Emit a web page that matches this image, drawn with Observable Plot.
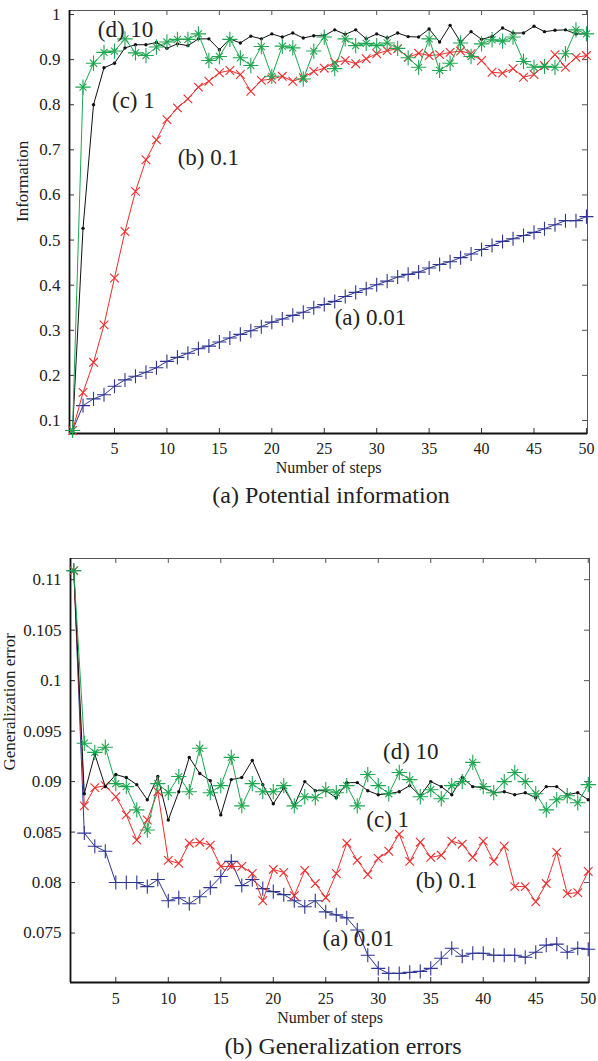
<!DOCTYPE html>
<html>
<head>
<meta charset="utf-8">
<script src="https://cdn.jsdelivr.net/npm/d3@7"></script>
<script src="https://cdn.jsdelivr.net/npm/@observablehq/plot@0.6"></script>
<style>
  body { margin: 0; background: #fff; }
  #wrap { position: relative; width: 598px; height: 1061px; overflow: hidden;
          font-family: "Liberation Serif", "Times New Roman", serif; color: #222; }
  .panel { position: absolute; left: 0; }
  .cap { position: absolute; transform: translate(-50%, -50%); white-space: nowrap;
         font-size: 24px; line-height: 1; color: #222; }
</style>
</head>
<body>
<div id="wrap">
  <div class="panel" id="p1" style="top:0px"></div>
  <div class="cap" style="left:331px; top:495px">(a) Potential information</div>
  <div class="panel" id="p2" style="top:530px"></div>
  <div class="cap" style="left:343px; top:1046px">(b) Generalization errors</div>
</div>
<script>
// Steps along the horizontal axis
const steps = [1, 2, 3, 4, 5, 6, 7, 8, 9, 10, 11, 12, 13, 14, 15, 16, 17, 18, 19, 20,
  21, 22, 23, 24, 25, 26, 27, 28, 29, 30, 31, 32, 33, 34, 35, 36, 37, 38, 39, 40,
  41, 42, 43, 44, 45, 46, 47, 48, 49, 50];

// Series names (learning parameter)
const seriesNames = ["(a) 0.01", "(b) 0.1", "(c) 1", "(d) 10"];

// Potential information per step
const infoA = [0.078, 0.133, 0.148, 0.157, 0.176, 0.190, 0.198, 0.207, 0.217, 0.231,
  0.240, 0.249, 0.259, 0.265, 0.274, 0.283, 0.291, 0.299, 0.308, 0.318,
  0.325, 0.333, 0.340, 0.350, 0.357, 0.364, 0.375, 0.384, 0.392, 0.401,
  0.409, 0.418, 0.424, 0.429, 0.438, 0.446, 0.452, 0.461, 0.469, 0.479,
  0.488, 0.497, 0.503, 0.510, 0.517, 0.525, 0.534, 0.543, 0.543, 0.552];
const infoB = [0.078, 0.162, 0.229, 0.312, 0.416, 0.519, 0.608, 0.678, 0.722, 0.767,
  0.793, 0.813, 0.839, 0.852, 0.871, 0.876, 0.867, 0.830, 0.854, 0.857,
  0.863, 0.852, 0.860, 0.874, 0.881, 0.894, 0.898, 0.891, 0.902, 0.913,
  0.920, 0.924, 0.905, 0.914, 0.909, 0.911, 0.916, 0.919, 0.913, 0.898,
  0.872, 0.870, 0.880, 0.861, 0.867, 0.887, 0.911, 0.883, 0.905, 0.909];
const infoC = [0.078, 0.526, 0.800, 0.882, 0.892, 0.926, 0.933, 0.933, 0.938, 0.925,
  0.935, 0.931, 0.946, 0.946, 0.922, 0.946, 0.937, 0.952, 0.946, 0.957,
  0.950, 0.959, 0.948, 0.953, 0.953, 0.966, 0.956, 0.966, 0.946, 0.957,
  0.948, 0.959, 0.951, 0.950, 0.968, 0.939, 0.976, 0.939, 0.962, 0.945,
  0.951, 0.970, 0.959, 0.959, 0.974, 0.962, 0.965, 0.966, 0.957, 0.957];
const infoD = [0.078, 0.839, 0.892, 0.916, 0.919, 0.946, 0.915, 0.909, 0.928, 0.939,
  0.945, 0.945, 0.957, 0.898, 0.907, 0.945, 0.904, 0.887, 0.929, 0.863,
  0.930, 0.926, 0.857, 0.919, 0.950, 0.880, 0.946, 0.931, 0.936, 0.931,
  0.937, 0.925, 0.904, 0.883, 0.946, 0.876, 0.892, 0.937, 0.907, 0.935,
  0.944, 0.941, 0.950, 0.896, 0.883, 0.885, 0.883, 0.913, 0.966, 0.957];

// Generalization error per step
const errA = [0.1109, 0.0849, 0.0836, 0.0831, 0.0800, 0.0800, 0.0800, 0.0796, 0.0803, 0.0782,
  0.0785, 0.0779, 0.0786, 0.0795, 0.0806, 0.0821, 0.0797, 0.0803, 0.0794, 0.0791,
  0.0788, 0.0782, 0.0776, 0.0782, 0.0771, 0.0768, 0.0765, 0.0753, 0.0728, 0.0715,
  0.0710, 0.0710, 0.0711, 0.0712, 0.0715, 0.0725, 0.0735, 0.0727, 0.0730, 0.0730,
  0.0728, 0.0728, 0.0728, 0.0726, 0.0731, 0.0738, 0.0739, 0.0731, 0.0735, 0.0734];
const errB = [0.1109, 0.0876, 0.0894, 0.0896, 0.0885, 0.0867, 0.0842, 0.0862, 0.0890, 0.0822,
  0.0819, 0.0839, 0.0840, 0.0837, 0.0816, 0.0816, 0.0816, 0.0809, 0.0782, 0.0813,
  0.0810, 0.0787, 0.0812, 0.0799, 0.0785, 0.0809, 0.0839, 0.0822, 0.0808, 0.0824,
  0.0831, 0.0848, 0.0821, 0.0840, 0.0825, 0.0827, 0.0841, 0.0838, 0.0825, 0.0841,
  0.0821, 0.0836, 0.0796, 0.0796, 0.0781, 0.0799, 0.0830, 0.0789, 0.0790, 0.0811];
const errC = [0.1109, 0.0888, 0.0927, 0.0895, 0.0907, 0.0904, 0.0897, 0.0882, 0.0905, 0.0862,
  0.0890, 0.0924, 0.0908, 0.0901, 0.0867, 0.0902, 0.0904, 0.0921, 0.0897, 0.0878,
  0.0894, 0.0876, 0.0900, 0.0891, 0.0891, 0.0884, 0.0899, 0.0899, 0.0891, 0.0887,
  0.0888, 0.0890, 0.0896, 0.0886, 0.0900, 0.0895, 0.0887, 0.0904, 0.0895, 0.0894,
  0.0889, 0.0890, 0.0887, 0.0889, 0.0884, 0.0895, 0.0895, 0.0887, 0.0889, 0.0882];
const errD = [0.1109, 0.0938, 0.0929, 0.0934, 0.0898, 0.0895, 0.0872, 0.0852, 0.0898, 0.0889,
  0.0905, 0.0890, 0.0933, 0.0889, 0.0896, 0.0924, 0.0876, 0.0898, 0.0890, 0.0890,
  0.0896, 0.0876, 0.0885, 0.0884, 0.0892, 0.0889, 0.0896, 0.0876, 0.0907, 0.0896,
  0.0888, 0.0909, 0.0902, 0.0885, 0.0892, 0.0883, 0.0896, 0.0900, 0.0919, 0.0895,
  0.0889, 0.0900, 0.0909, 0.0900, 0.0888, 0.0872, 0.0882, 0.0886, 0.0879, 0.0897];

// Tick values
const xTicks = [5, 10, 15, 20, 25, 30, 35, 40, 45, 50];
const infoTicks = [0.1, 0.2, 0.3, 0.4, 0.5, 0.6, 0.7, 0.8, 0.9, 1];
const errTicks = [0.075, 0.08, 0.085, 0.09, 0.095, 0.1, 0.105, 0.11];

// Line and marker styles per series
const styles = [
  {color: "#2e3592", markers: [{symbol: "plus", r: 4.6}]},
  {color: "#ee2c2c", markers: [{symbol: "times", r: 4}]},
  {color: "#111111", markers: [{symbol: "circle", r: 1.7, fill: true}]},
  {color: "#1ea650", markers: [{symbol: "plus", r: 5}, {symbol: "times", r: 3.3}]}
];

const FONT = "Liberation Serif, Times New Roman, serif";

function panel(opts) {
  const {values, xDomain, yDomain, yTicks, yTitle, yTitleDx, titleDy,
         height, marginTop, marginBottom, marginLeft, marginRight, tickPad, notes} = opts;
  const width = 598;
  const innerW = width - marginLeft - marginRight;
  const innerH = height - marginTop - marginBottom;
  const t = 5; // inward tick length

  const marks = [
    Plot.frame({stroke: "#555", strokeWidth: 1}),
    // inward ticks on all four sides
    Plot.ruleX(xTicks, {stroke: "#333", insetTop: innerH - t}),
    Plot.ruleX(xTicks, {stroke: "#555", insetBottom: innerH - t}),
    Plot.ruleY(yTicks, {stroke: "#333", insetRight: innerW - t}),
    Plot.ruleY(yTicks, {stroke: "#555", insetLeft: innerW - t}),
    // heavier left and bottom spines
    Plot.ruleX([xDomain[0]], {stroke: "#111", strokeWidth: 1.8}),
    Plot.ruleY([yDomain[0]], {stroke: "#111", strokeWidth: 1.8}),
    Plot.axisX({ticks: xTicks, tickSize: 0, tickPadding: tickPad, label: null,
                fontSize: 16, tickFormat: d => String(d)}),
    Plot.axisY({ticks: yTicks, tickSize: 0, tickPadding: 9, label: null,
                fontSize: 17, tickFormat: d => String(d)}),
    Plot.text(["Number of steps"], {frameAnchor: "bottom", dy: titleDy,
                fontSize: 16, fill: "#222"}),
    Plot.text([yTitle], {frameAnchor: "left", dx: yTitleDx, rotate: -90,
                fontSize: 17, fill: "#222"})
  ];

  values.forEach((ys, i) => {
    const rows = steps.map((s, j) => ({step: s, value: ys[j]}));
    const st = styles[i];
    marks.push(Plot.line(rows, {x: "step", y: "value", stroke: st.color, strokeWidth: 1}));
    st.markers.forEach(m => {
      marks.push(Plot.dot(rows, {
        x: "step", y: "value", symbol: m.symbol, r: m.r,
        stroke: m.fill ? "none" : st.color,
        fill: m.fill ? st.color : "none",
        strokeWidth: 1.1
      }));
    });
  });

  marks.push(Plot.text(notes, {x: "x", y: "y", text: "label", fontSize: 23, fill: "#222"}));

  return Plot.plot({
    width, height, marginTop, marginBottom, marginLeft, marginRight,
    x: {domain: xDomain},
    y: {domain: yDomain},
    style: {fontFamily: FONT, fontSize: "17px", color: "#222", background: "white", overflow: "visible"},
    marks
  });
}

document.getElementById("p1").append(panel({
  values: [infoA, infoB, infoC, infoD],
  xDomain: [0.71, 50.1],
  yDomain: [0.0712, 1.0089],
  yTicks: infoTicks,
  yTitle: "Information",
  yTitleDx: -47,
  titleDy: 39,
  height: 480, marginTop: 10, marginBottom: 47, marginLeft: 69, marginRight: 11,
  tickPad: 9,
  notes: [
    {label: seriesNames[3], x: 6.05, y: 0.967},
    {label: seriesNames[2], x: 6.8, y: 0.809},
    {label: seriesNames[1], x: 13.95, y: 0.683},
    {label: seriesNames[0], x: 29.4, y: 0.327}
  ]
}));

document.getElementById("p2").append(panel({
  values: [errA, errB, errC, errD],
  xDomain: [0.685, 50.12],
  yDomain: [0.0701, 0.1121],
  yTicks: errTicks,
  yTitle: "Generalization error",
  yTitleDx: -61,
  titleDy: 40,
  height: 500, marginTop: 28, marginBottom: 48, marginLeft: 70, marginRight: 9,
  tickPad: 10,
  notes: [
    {label: seriesNames[3], x: 33.1, y: 0.0930},
    {label: seriesNames[2], x: 30.9, y: 0.0862},
    {label: seriesNames[1], x: 36.5, y: 0.0802},
    {label: seriesNames[0], x: 28.1, y: 0.0744}
  ]
}));
</script>
</body>
</html>
